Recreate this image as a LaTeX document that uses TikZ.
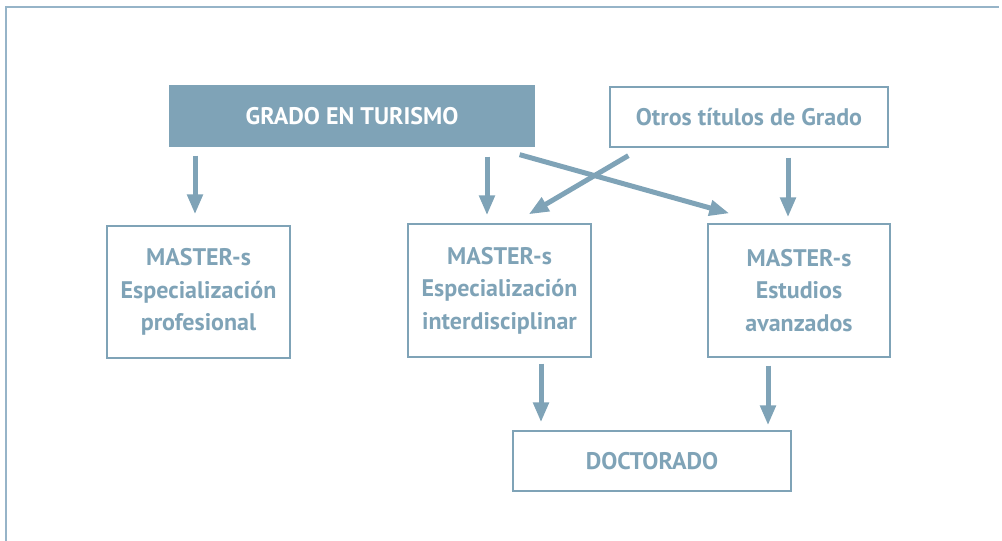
\documentclass[tikz,border=0pt]{standalone}
\usepackage{fontspec}
\setmainfont{PT Sans}
\usepackage{tikz}
\usetikzlibrary{arrows.meta, positioning}
\definecolor{azul}{RGB}{127,163,183}
\definecolor{marco}{RGB}{150,180,200}

\begin{document}
\begin{tikzpicture}[x=1pt,y=-1pt]

	\tikzstyle{arrow} = [azul, line width=5pt, -{Triangle[length=20pt,width=15pt]}]
	\tikzstyle{caja} = [draw=azul, line width=1.3pt, text=azul, font=\fontsize{24}{32.5}\selectfont\bfseries, align=center, inner sep=0pt]
	\useasboundingbox (0,0) rectangle (1002,541);
	\draw[marco, line width=1.3pt] (6,541) -- (6,7) -- (999,7);

	\node[caja, fill=azul, text=white, minimum width=364pt, minimum height=60pt] (grado) at (352,116) {GRADO EN TURISMO};
	\node[caja, minimum width=278pt, minimum height=60pt] (otros) at (749,117) {Otros títulos de Grado};
	\node[caja, minimum width=183pt, minimum height=132pt] (mprof) at (198.5,292) {MASTER-s\\Especialización\\profesional};
	\node[caja, minimum width=183pt, minimum height=133pt] (minter) at (499.5,290.5) {MASTER-s\\Especialización\\interdisciplinar};
	\node[caja, minimum width=182pt, minimum height=133pt] (mavanz) at (799,290.5) {MASTER-s\\Estudios\\avanzados};
	\node[caja, minimum width=278pt, minimum height=60pt] (doct) at (652,461) {DOCTORADO};

\draw [arrow, shorten <=9pt, shorten >=11pt] ([xshift=-3.5pt]grado.south -| mprof.north) -- ([xshift=-3.5pt]mprof.north);
\draw [arrow, shorten <=10pt, shorten >=8pt] ([xshift=-12.5pt]grado.south -| minter.north) -- ([xshift=-12.5pt]minter.north);
\draw [arrow, shorten <=10pt, shorten >=6pt] ([xshift=-11pt]otros.south -| mavanz.north) -- ([xshift=-11pt]mavanz.north);
\draw [arrow] ([shift={(-15,8)}]grado.south east) -- ([shift={(22,-10)}]mavanz.north west);
\draw [arrow] ([shift={(19,8)}]otros.south west) -- ([shift={(-63,-9)}]minter.north east);
\draw [arrow, shorten <=6pt, shorten >=8pt] ([xshift=41.5pt]minter.south) -- ([xshift=41.5pt]minter.south |- doct.north);
\draw [arrow, shorten <=8pt, shorten >=5pt] ([xshift=-31pt]mavanz.south) -- ([xshift=-31pt]mavanz.south |- doct.north);

\end{tikzpicture}
\end{document}
